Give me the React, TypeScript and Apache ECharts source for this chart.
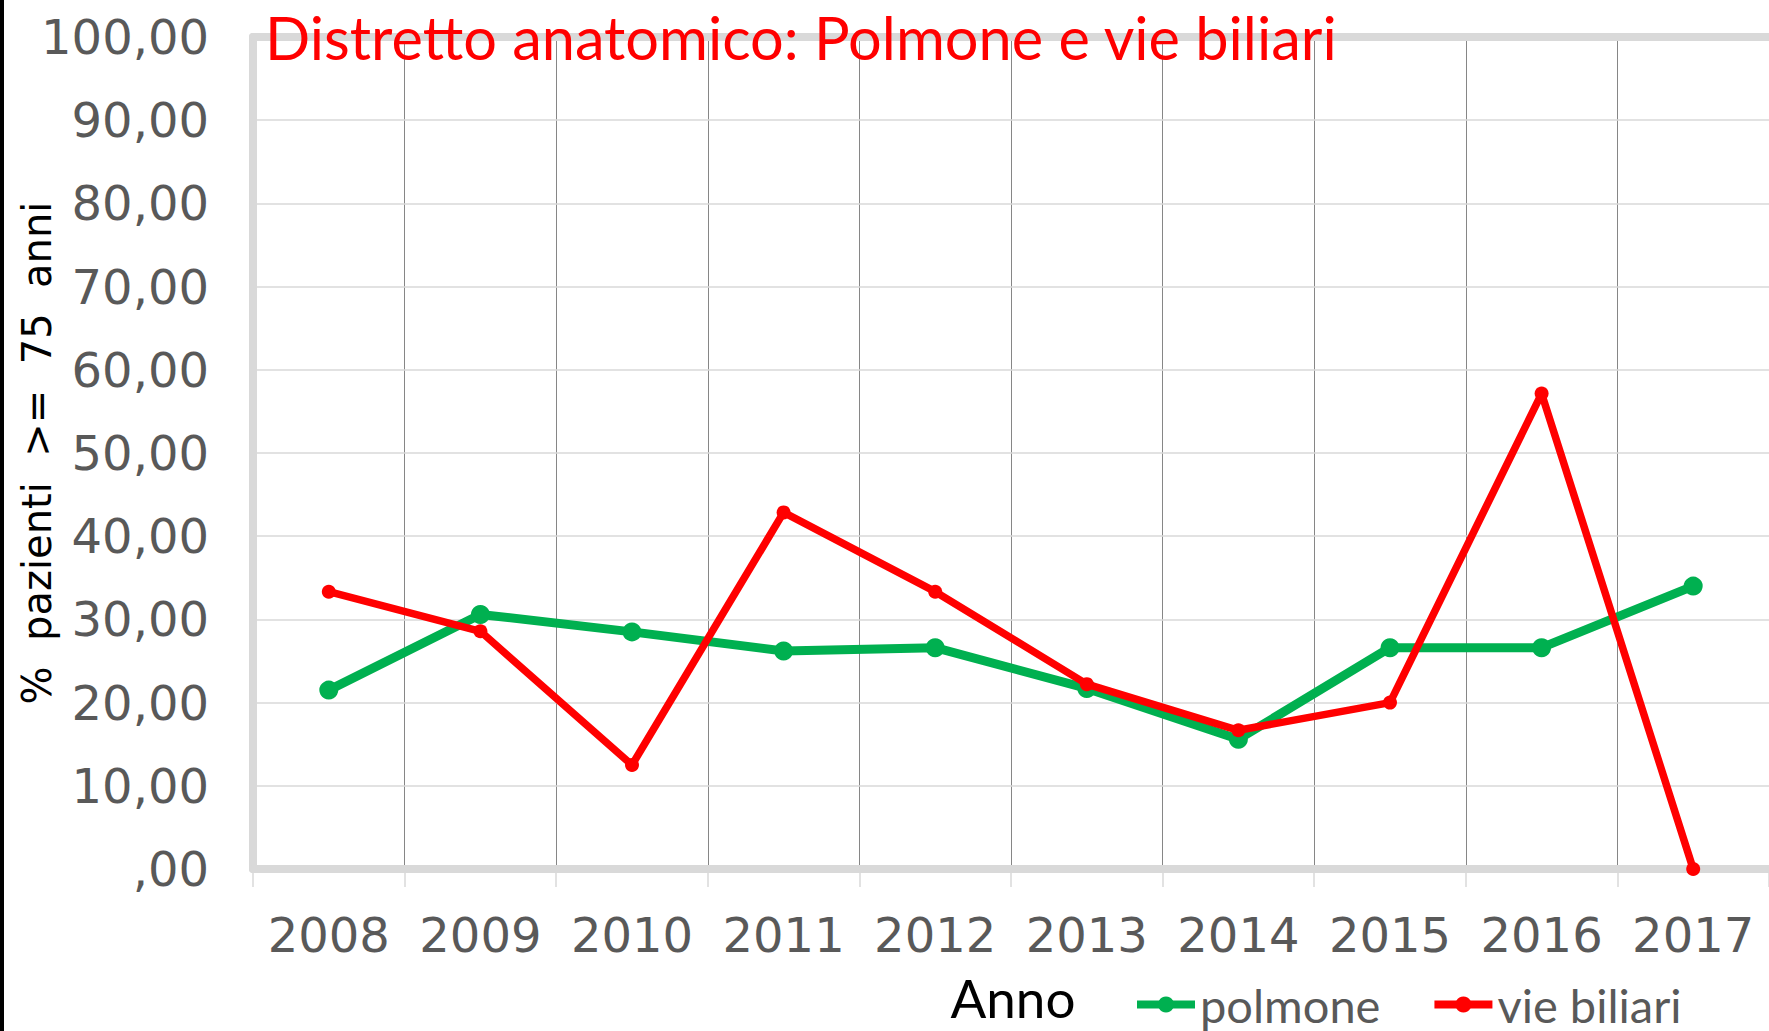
import React, { useEffect, useRef } from "react";
import * as echarts from "echarts";

const years = ["2008", "2009", "2010", "2011", "2012", "2013", "2014", "2015", "2016", "2017"];
const polmone = [21.5, 30.6, 28.5, 26.2, 26.6, 21.7, 15.6, 26.6, 26.6, 34.0];
const vieBiliari = [33.33, 28.57, 12.5, 42.86, 33.33, 22.22, 16.67, 20.0, 57.14, 0];
const yTicks = { min: 0, max: 100, interval: 10 };

const titleText = "Distretto anatomico: Polmone e vie biliari";
const yTitle = "%  pazienti  >=  75  anni";
const xTitle = "Anno";

export default function App() {
  const ref = useRef<HTMLDivElement>(null);
  useEffect(() => {
    if (!ref.current) return;
    const chart = echarts.init(ref.current, null, { renderer: "svg" });
    const labelFont = "DejaVu Sans";
    const border = "#d9d9d9";
    chart.setOption({
      animation: false,
      backgroundColor: "#ffffff",
      grid: { left: 253, top: 37, width: 1521, height: 832, containLabel: false },
      legend: {
        left: 1128,
        top: 976,
        itemWidth: 58,
        itemHeight: 20,
        itemGap: 50,
        lineStyle: { width: 8 },
        textStyle: { fontSize: 47, fontFamily: "Lato", color: "#595959" },
        data: ["polmone", "vie biliari"],
      },
      xAxis: [
        {
          type: "category",
          data: years,
          boundaryGap: true,
          position: "bottom",
          z: 1,
          axisLine: { show: true, lineStyle: { color: border, width: 8 } },
          axisTick: { show: true, length: 18, alignWithLabel: false, interval: 0, lineStyle: { color: border, width: 1.5 } },
          axisLabel: { interval: 0, hideOverlap: false, margin: 42, fontSize: 48, fontFamily: labelFont, color: "#595959" },
          splitLine: { show: false },
        },
        {
          type: "category",
          data: years,
          boundaryGap: true,
          position: "top",
          z: 1,
          axisLine: { show: true, lineStyle: { color: border, width: 8 } },
          axisTick: { show: false },
          axisLabel: { show: false },
          splitLine: { show: false },
        },
        {
          type: "category",
          data: years,
          boundaryGap: true,
          position: "bottom",
          z: 0,
          axisLine: { show: false },
          axisTick: { show: false },
          axisLabel: { show: false },
          splitLine: { show: true, interval: 0, lineStyle: { color: "#868686", width: 1 } },
        },
      ],
      yAxis: {
        type: "value",
        min: yTicks.min,
        max: yTicks.max,
        interval: yTicks.interval,
        z: 1,
        axisLine: { show: true, lineStyle: { color: border, width: 8 } },
        axisTick: { show: false },
        axisLabel: {
          margin: 44,
          fontSize: 48,
          fontFamily: labelFont,
          color: "#595959",
          formatter: (v: number) => (v === 0 ? ",00" : `${v},00`),
        },
        splitLine: { show: true, lineStyle: { color: border, width: 1.5 } },
      },
      series: [
        {
          name: "polmone",
          type: "line",
          data: polmone,
          symbol: "circle",
          symbolSize: 19,
          itemStyle: { color: "#00b050" },
          lineStyle: { color: "#00b050", width: 9 },
          z: 2,
        },
        {
          name: "vie biliari",
          type: "line",
          data: vieBiliari,
          symbol: "circle",
          symbolSize: 14,
          itemStyle: { color: "#ff0000" },
          lineStyle: { color: "#ff0000", width: 7.5 },
          z: 3,
        },
      ],
      graphic: [
        { type: "rect", shape: { x: 0, y: 0, width: 4, height: 1031 }, style: { fill: "#000000" }, z: 10 },
        {
          type: "text",
          x: 265,
          y: 37,
          z: 10,
          style: { text: titleText, fill: "#ff0000", fontSize: 59.5, fontFamily: "Lato", align: "left", verticalAlign: "middle" },
        },
        {
          type: "text",
          x: 37,
          y: 453,
          rotation: Math.PI / 2,
          z: 10,
          style: { text: yTitle, fill: "#000000", fontSize: 40, fontFamily: labelFont, align: "center", verticalAlign: "middle" },
        },
        {
          type: "text",
          x: 1013,
          y: 997,
          z: 10,
          style: { text: xTitle, fill: "#000000", fontSize: 53, fontFamily: "Lato", align: "center", verticalAlign: "middle" },
        },
      ],
    });
    return () => chart.dispose();
  }, []);
  return (
    <div
      ref={ref}
      style={{ position: "fixed", left: 0, top: 0, width: 1769, height: 1031, background: "#ffffff" }}
    />
  );
}
